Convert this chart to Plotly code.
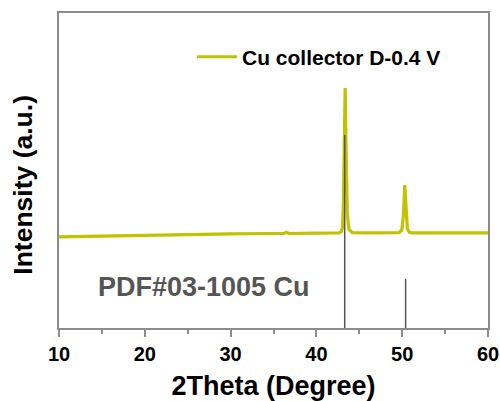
import plotly.graph_objects as go

# Measured XRD pattern (2theta in degrees, intensity in a.u.)
two_theta = [10, 15, 20, 25, 30, 35, 36.2, 36.5, 36.8, 40, 42.6, 42.9, 43.05, 43.15, 43.25,
             43.35, 43.45, 43.6, 43.8, 44.2, 46, 49.6, 49.95, 50.15, 50.3, 50.45, 50.6,
             50.85, 51.2, 55, 60]
intensity = [28.9, 29.2, 29.5, 29.7, 29.9, 30.0, 30.0, 30.4, 30.0, 30.1, 30.2, 30.6, 32.0,
             40.0, 62.0, 76.2, 58.0, 36.0, 31.2, 30.3, 30.2, 30.3, 31.0, 36.0, 45.4,
             37.0, 31.5, 30.4, 30.2, 30.2, 30.2]

# Reference card PDF#03-1005 (Cu) stick positions and heights
ref_theta = [43.3, 50.4]
ref_height = [61.3, 15.6]

FONT = "Arial, Liberation Sans"

fig = go.Figure()

fig.add_trace(go.Scatter(
    x=two_theta, y=intensity, mode="lines",
    line=dict(color="#c2c200", width=3.2),
    name="Cu collector D-0.4 V",
))

stick_x, stick_y = [], []
for t, h in zip(ref_theta, ref_height):
    stick_x += [t, t, None]
    stick_y += [0, h, None]
fig.add_trace(go.Scatter(
    x=stick_x, y=stick_y, mode="lines",
    line=dict(color="#555555", width=1.5),
    showlegend=False, hoverinfo="skip",
))

fig.add_annotation(
    x=10.0, y=13, xref="x", yref="y", xanchor="left", yanchor="middle",
    text="PDF#03-1005 Cu", showarrow=False, xshift=37,
    font=dict(family=FONT, size=27, color="#555555", weight="bold"),
)

# Vertical axis title, placed as a rotated annotation
fig.add_annotation(
    x=0, y=0.455, xref="paper", yref="paper", xanchor="center", yanchor="middle",
    text="Intensity (a.u.)", showarrow=False, textangle=-90, xshift=-36,
    font=dict(family=FONT, size=26.5, color="black", weight="bold"),
)

axis_common = dict(
    showline=True, linecolor="#8c8c8c", linewidth=1.5, mirror=True,
    showgrid=False, zeroline=False, automargin=False,
)

fig.update_xaxes(
    range=[10, 60], tickvals=[10, 20, 30, 40, 50, 60], ticks="outside",
    ticklen=7, tickwidth=1.5, tickcolor="#8c8c8c",
    minor=dict(tickvals=[15, 25, 35, 45, 55], ticks="outside", ticklen=4,
               tickwidth=1.5, tickcolor="#8c8c8c"),
    tickfont=dict(family=FONT, size=20, color="black", weight="bold"),
    title=dict(text="2Theta (Degree)", standoff=13,
               font=dict(family=FONT, size=27, color="black", weight="bold")),
    **axis_common,
)
fig.update_yaxes(
    range=[0, 100], showticklabels=False, ticks="",
    **axis_common,
)

fig.update_layout(
    width=500, height=401,
    margin=dict(l=59, r=12, t=13, b=73),
    paper_bgcolor="white", plot_bgcolor="white",
    legend=dict(x=0.31, y=0.86, xanchor="left", yanchor="middle",
                itemwidth=40, bgcolor="rgba(0,0,0,0)",
                font=dict(family=FONT, size=21, color="black", weight="bold")),
)

fig.write_html("out.html")
